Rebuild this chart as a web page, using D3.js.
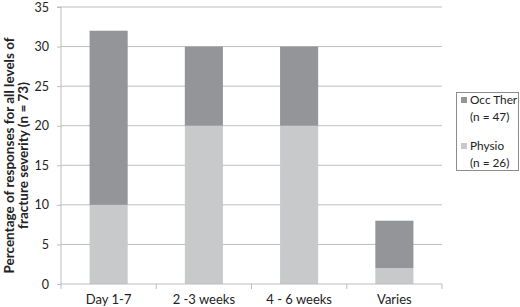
<!DOCTYPE html>
<html><head><meta charset="utf-8">
<script src="https://cdn.jsdelivr.net/npm/d3@7"></script>
<style>body{margin:0;background:#fff}svg{display:block}text{font-family:Lato,"Open Sans",sans-serif;fill:#222}</style>
</head><body>
<script>
const categories = ["Day 1-7", "2 -3 weeks", "4 - 6 weeks", "Varies"];
const physio = [10, 20, 20, 2];
const occTher = [22, 10, 10, 6];
const seriesNames = ["Physio", "Occ Ther"];
const legendLabels = [["Occ Ther", "(n = 47)"], ["Physio", "(n = 26)"]];
const yTicks = [0, 5, 10, 15, 20, 25, 30, 35];
const colors = {"Physio": "#c8c9cb", "Occ Ther": "#939598"};

const W = 520, H = 307;
const m = {l: 61, r: 78, t: 7, b: 23};
const svg = d3.select("body").append("svg").attr("width", W).attr("height", H);

const x = d3.scaleBand().domain(categories).range([m.l, W - m.r]).paddingInner(0.6).paddingOuter(0.3);
const xb = d3.scaleBand().domain(categories).range([m.l, W - m.r]);
const y = d3.scaleLinear().domain([0, 35]).range([H - m.b, m.t]);

// gridlines
svg.append("g").selectAll("line").data(yTicks.filter(d => d > 0)).join("line")
  .attr("x1", m.l).attr("x2", W - m.r).attr("y1", d => y(d)).attr("y2", d => y(d))
  .attr("stroke", "#bdbdbd").attr("stroke-width", 1);

const table = categories.map((c, i) => ({cat: c, "Physio": physio[i], "Occ Ther": occTher[i]}));
const stacked = d3.stack().keys(seriesNames)(table);
svg.append("g").selectAll("g").data(stacked).join("g")
  .attr("fill", d => colors[d.key])
  .selectAll("rect").data(d => d).join("rect")
  .attr("x", d => x(d.data.cat)).attr("width", x.bandwidth())
  .attr("y", d => y(d[1])).attr("height", d => y(d[0]) - y(d[1]));

// y axis
const ya = svg.append("g").attr("transform", `translate(${m.l},0)`)
  .call(d3.axisLeft(y).tickValues(yTicks).tickSize(4).tickPadding(8));
ya.select(".domain").attr("stroke", "#bdbdbd").attr("d", `M-4,${y(35)}H0V${y(0)}`);
ya.selectAll(".tick line").attr("stroke", "#bdbdbd");
ya.selectAll("text").style("font-size", "12.5px").attr("fill", "#222");

// x axis
const xg = svg.append("g").attr("transform", `translate(0,${y(0)})`);
xg.append("line").attr("x1", m.l).attr("x2", W - m.r).attr("stroke", "#bdbdbd");
xg.selectAll("line.t").data(categories.concat(["end"])).join("line").attr("class", "t")
  .attr("x1", (d, i) => m.l + i * xb.bandwidth()).attr("x2", (d, i) => m.l + i * xb.bandwidth())
  .attr("y1", 0).attr("y2", 5).attr("stroke", "#bdbdbd");
xg.selectAll("text").data(categories).join("text")
  .attr("x", d => x(d) + x.bandwidth() / 2).attr("y", 20)
  .attr("text-anchor", "middle").style("font-size", "13px").text(d => d);

// y title
const yt = svg.append("text").attr("transform", `translate(14,${(y(0) + y(35)) / 2 + 10}) rotate(-90)`)
  .attr("text-anchor", "middle").style("font-size", "13.5px").style("font-weight", "bold");
yt.append("tspan").attr("x", 0).attr("y", 0).text("Percentage of responses for all levels of");
yt.append("tspan").attr("x", 0).attr("y", 14).text("fracture severity (n = 73)");

// legend
const lg = svg.append("g");
lg.append("rect").attr("x", 456.5).attr("y", 92.5).attr("width", 62).attr("height", 78)
  .attr("fill", "#fff").attr("stroke", "#8c8c8c");
const legKeys = ["Occ Ther", "Physio"];
legendLabels.forEach((lab, i) => {
  const y0 = 104 + i * 46;
  lg.append("rect").attr("x", 461).attr("y", y0 - 7).attr("width", 6).attr("height", 6).attr("fill", colors[legKeys[i]]);
  lg.append("text").attr("x", 470).attr("y", y0).style("font-size", "11.8px").text(lab[0]);
  lg.append("text").attr("x", 470).attr("y", y0 + 17).style("font-size", "11.8px").text(lab[1]);
});
</script>
</body></html>
